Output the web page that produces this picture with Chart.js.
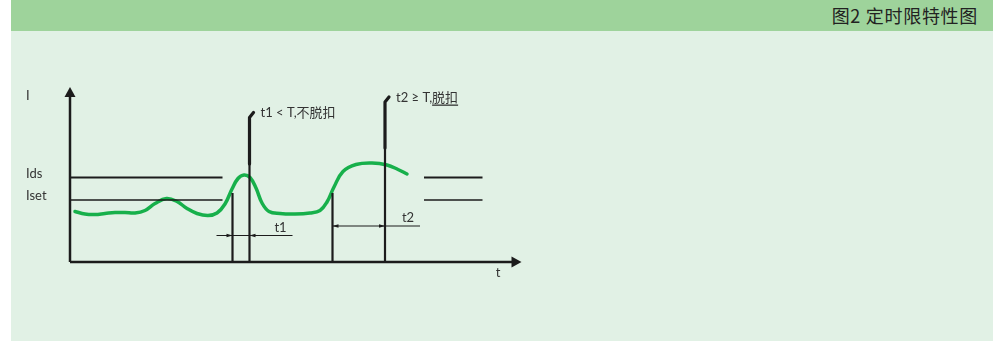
<!DOCTYPE html>
<html>
<head>
<meta charset="utf-8">
<script src="https://cdn.jsdelivr.net/npm/chart.js@4.4.1/dist/chart.umd.min.js"></script>
<style>
  body { margin: 0; background: #fff; }
  #head { position: absolute; left: 11px; top: 0; width: 982px; height: 31px; background: #9ed39b; }
  #panel { position: absolute; left: 11px; top: 31px; width: 982px; height: 310px; background: #e1f1e5; }
  #title { position: absolute; right: 16px; top: 2px; line-height: 31px; font: 18px "Noto Sans CJK SC", sans-serif;
           letter-spacing: 0.7px; color: #222; }
  #plot { position: absolute; left: 0; top: 0; }
</style>
</head>
<body>
<div id="head"></div>
<div id="panel"></div>
<div id="title">图2 定时限特性图</div>
<canvas id="plot" width="994" height="341"></canvas>
<script>
// axis ranges (schematic units)
var tMax = 90;
var iMax = 35;

// green current curve
var curveT = [1, 3, 5, 7, 9, 11, 13, 15, 17, 19.3, 21.4, 23.4, 25.4, 27.6, 29.4, 31, 32.4, 33.6, 34.8, 36, 37.2, 38.4, 39.8, 42, 45, 48, 50, 51.4, 52.8, 54.6, 57.2, 60.4, 63.4, 65.6, 67.4];
var curveI = [10.1, 9.6, 9.5, 9.7, 9.9, 9.9, 9.8, 10.3, 11.7, 12.7, 12.1, 10.7, 9.7, 9.3, 9.8, 11.6, 14.6, 16.7, 17.4, 16.9, 14.8, 11.8, 10.1, 9.7, 9.6, 9.8, 10.3, 12, 15, 18.1, 19.5, 19.8, 19.4, 18.5, 17.6];

// threshold levels
var levelNames = ["Ids", "Iset"];
var levelValues = [16.9, 12.4];
var levelSpans = [[0, 30.5], [70.8, 82.5]];

// start of over-current (t) and trip check marks
var startT = [32.5, 52.5];
var startTop = 13.8;
var checkT = [35.9, 63];
var checkSplit = [19.6, 22.8];
var checkTop = [28.9, 32.0];
var checkNotes = ["t1 < T,不脱扣", "t2 ≥ T,"];
var tripWord = "脱扣";

// time intervals t1, t2
var spanNames = ["t1", "t2"];
var spanLevel = [5.3, 7.2];
var spanEnds = [[29.3, 44.5], [52.5, 70]];

var ink = "#1c1c1c";
var txt = "#333";

function seg(x0, y0, x1, y1) { return [{x: x0, y: y0}, {x: x1, y: y1}]; }

function lineSet(data, w, color) {
  return {
    type: "line", data: data, borderColor: color || ink, borderWidth: w,
    pointRadius: 0, tension: 0, clip: false, borderCapStyle: "butt", spanGaps: false
  };
}

var datasets = [];

// axes
datasets.push(lineSet(seg(0, 0, tMax - 1.5, 0), 2.5));
datasets.push(lineSet(seg(0, 0, 0, iMax - 1.5), 2.5));

// level lines (gap between the two spans)
levelValues.forEach(function (v, k) {
  var d = [
    {x: levelSpans[0][0], y: v}, {x: levelSpans[0][1], y: v},
    {x: (levelSpans[0][1] + levelSpans[1][0]) / 2, y: null},
    {x: levelSpans[1][0], y: v}, {x: levelSpans[1][1], y: v}
  ];
  datasets.push(lineSet(d, k === 0 ? 2.2 : 1.3));
});

// vertical marks
startT.forEach(function (t) { datasets.push(lineSet(seg(t, 0, t, startTop), 2.2)); });
checkT.forEach(function (t, k) {
  datasets.push(lineSet(seg(t, 0, t, checkSplit[k]), 2.2));
  var top = [{x: t, y: checkSplit[k]}, {x: t, y: checkTop[k]}, {x: t + 0.8, y: checkTop[k] + 1}];
  var s = lineSet(top, 3.2);
  s.borderJoinStyle = "round";
  s.borderCapStyle = "round";
  datasets.push(s);
});

// interval dimension lines
spanLevel.forEach(function (v, k) {
  datasets.push(lineSet(seg(spanEnds[k][0], v, spanEnds[k][1], v), 1.2));
});

// curve on top
datasets.push({
  type: "line",
  data: curveT.map(function (t, k) { return {x: t, y: curveI[k]}; }),
  borderColor: "#17b04b", borderWidth: 3.5, pointRadius: 0, tension: 0.4,
  borderCapStyle: "round", borderJoinStyle: "round", clip: false
});

function arrow(ctx, x, y, dx, dy, len, half) {
  ctx.beginPath();
  ctx.moveTo(x, y);
  ctx.lineTo(x - dx * len - dy * half, y - dy * len + dx * half);
  ctx.lineTo(x - dx * len + dy * half, y - dy * len - dx * half);
  ctx.closePath();
  ctx.fill();
}

var drawings = {
  id: "drawings",
  afterDatasetsDraw: function (chart) {
    var ctx = chart.ctx;
    var x = chart.scales.x, y = chart.scales.y;
    ctx.save();
    ctx.fillStyle = ink;
    // axis arrows
    arrow(ctx, x.getPixelForValue(0), y.getPixelForValue(iMax), 0, -1, 10, 5.5);
    arrow(ctx, x.getPixelForValue(tMax) + 1.5, y.getPixelForValue(0), 1, 0, 10, 5.5);

    // interval arrows
    var p1 = y.getPixelForValue(spanLevel[0]);
    arrow(ctx, x.getPixelForValue(startT[0]), p1, 1, 0, 6, 1.8);
    arrow(ctx, x.getPixelForValue(checkT[0]), p1, -1, 0, 6, 1.8);
    var p2 = y.getPixelForValue(spanLevel[1]);
    arrow(ctx, x.getPixelForValue(startT[1]), p2, -1, 0, 6, 1.8);
    arrow(ctx, x.getPixelForValue(checkT[1]), p2, 1, 0, 6, 1.8);

    // texts
    ctx.fillStyle = txt;
    ctx.font = '13px Lato, "Noto Sans CJK SC", sans-serif';
    ctx.textBaseline = "middle";
    ctx.textAlign = "left";
    var lx = 26;
    ctx.fillText("I", lx, y.getPixelForValue(iMax) + 9);
    levelNames.forEach(function (n, k) {
      ctx.fillText(n, lx, y.getPixelForValue(levelValues[k]) - 4);
    });
    ctx.textAlign = "center";
    ctx.fillText("t", x.getPixelForValue(tMax) - 22, y.getPixelForValue(0) + 11);
    spanNames.forEach(function (n, k) {
      ctx.fillText(n, x.getPixelForValue(spanEnds[k][1]) - 12, y.getPixelForValue(spanLevel[k]) - 8);
    });

    ctx.textAlign = "left";
    checkT.forEach(function (t, k) {
      var px = x.getPixelForValue(t) + 11;
      var py = y.getPixelForValue(checkTop[k]) - 4.5;
      ctx.fillText(checkNotes[k], px, py);
      if (k === 1) {
        var w = ctx.measureText(checkNotes[k]).width;
        ctx.fillText(tripWord, px + w, py);
        var w2 = ctx.measureText(tripWord).width;
        ctx.fillRect(px + w, py + 7, w2, 1.3);
      }
    });
    ctx.restore();
  }
};

new Chart("plot", {
  type: "line",
  data: { datasets: datasets },
  options: {
    responsive: false,
    animation: false,
    devicePixelRatio: 1,
    layout: { padding: { left: 70, right: 474, top: 87, bottom: 79 } },
    plugins: { legend: { display: false }, tooltip: { enabled: false } },
    scales: {
      x: { type: "linear", min: 0, max: tMax, display: false },
      y: { type: "linear", min: 0, max: iMax, display: false }
    }
  },
  plugins: [drawings]
});
</script>
</body>
</html>
